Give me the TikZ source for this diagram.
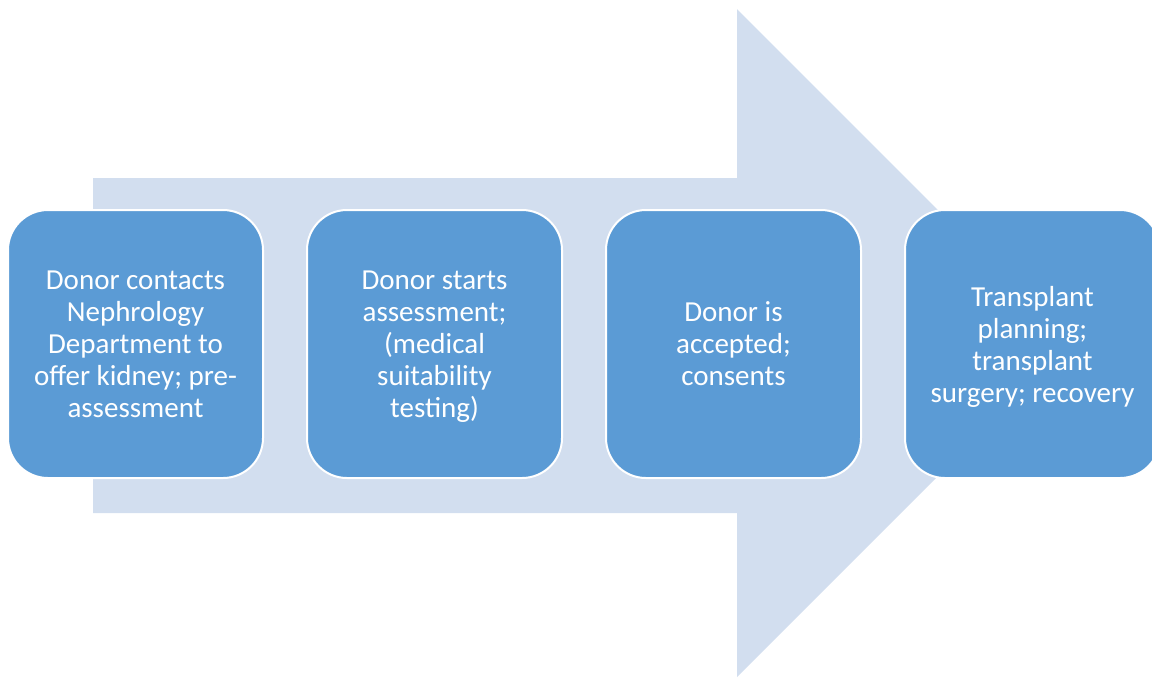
\documentclass[tikz,border=0pt]{standalone}
\usepackage{fontspec}
\setmainfont{Carlito}
\usetikzlibrary{positioning}

\definecolor{boxblue}{HTML}{5B9BD5}
\definecolor{arrowblue}{HTML}{D2DEEF}

\begin{document}
\begin{tikzpicture}[x=0.5pt, y=-0.5pt,
    stepbox/.style={draw=white, line width=1pt, fill=boxblue, rounded corners=20pt,
      minimum width=127.5pt, minimum height=134pt, align=center, text=white,
      font=\fontsize{14.5}{16}\selectfont, text depth=0pt}]
  \useasboundingbox (0,0) rectangle (1152,677);
  \clip (0,0) rectangle (1152,677);

  % big arrow behind the steps
  \fill[arrowblue] (93,178) -- (737,178) -- (737,9) -- (1071,343)
    -- (737,677) -- (737,513) -- (93,513) -- cycle;

  \node[stepbox] (donor) at (135.5,344) {Donor contacts\\Nephrology\\Department to\\offer kidney; pre-\\assessment};
  \node[stepbox, right=21pt of donor] (assess) {Donor starts\\assessment;\\(medical\\suitability\\testing)};
  \node[stepbox, right=21pt of assess] (accept) {Donor is\\accepted;\\consents};
  \node[stepbox, right=21pt of accept] (surgery) {Transplant\\planning;\\transplant\\surgery; recovery};
\end{tikzpicture}
\end{document}
